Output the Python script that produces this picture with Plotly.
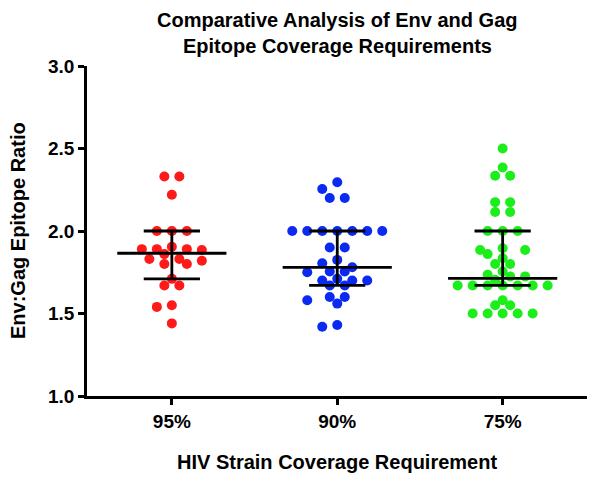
import numpy as np
import plotly.graph_objects as go
from collections import Counter

# ---------------- data ----------------
categories = ["95%", "90%", "75%"]

ratio_95 = [2.33, 2.33, 2.22, 2.00, 2.00, 2.00, 1.905, 1.89, 1.89, 1.89, 1.885,
            1.86, 1.83, 1.83, 1.82, 1.80, 1.80, 1.71, 1.67, 1.67, 1.55, 1.54, 1.44]

ratio_90 = [2.295, 2.255, 2.20, 2.20, 2.00, 2.00, 2.00, 2.00, 2.00, 2.00, 2.00,
            1.90, 1.90, 1.825, 1.805, 1.78, 1.755, 1.755, 1.75, 1.71, 1.70, 1.70,
            1.70, 1.67, 1.67, 1.60, 1.60, 1.58, 1.56, 1.43, 1.42]

ratio_75 = [2.50, 2.385, 2.335, 2.335, 2.175, 2.175, 2.115, 2.115, 2.00, 2.00, 2.00,
            1.895, 1.885, 1.885, 1.86, 1.835, 1.80, 1.80, 1.755, 1.735, 1.725, 1.725,
            1.705, 1.67, 1.67, 1.67, 1.67, 1.67, 1.67, 1.67, 1.58, 1.55, 1.55,
            1.50, 1.50, 1.50, 1.50, 1.50]

median_vals = [1.865, 1.78, 1.713]
q1_vals = [1.71, 1.67, 1.67]
q3_vals = [2.00, 2.00, 2.00]

# ---------------- styling / layout ----------------
colors = ["#FF1A1A", "#0A2AF2", "#1CEE1C"]
FONT = "Liberation Sans, Arial, Helvetica, sans-serif"
PAGE_OFF = 8                      # default body margin of the html page
W, H = 600 - PAGE_OFF, 479 - PAGE_OFF
M_L, M_R, M_T, M_B = 87 - PAGE_OFF, 13, 66 - PAGE_OFF, 83
X_RANGE = [-0.513, 2.51]
Y_RANGE = [1.0, 3.0]
plot_w = W - M_L - M_R
plot_h = H - M_T - M_B
px_x = plot_w / (X_RANGE[1] - X_RANGE[0])
px_y = plot_h / (Y_RANGE[1] - Y_RANGE[0])
MARKER = 10
STEP = 7.5      # half spacing between neighbouring dots (px)
MIN_D = 8.5     # minimum distance between dot centres (px)
MED_HALF = 0.33
Q_HALF = 0.17


def paper_y(page_px):
    return 1 - (page_px - PAGE_OFF - M_T) / plot_h


def paper_x(page_px):
    return (page_px - PAGE_OFF - M_L) / plot_w


def swarm_offsets(values):
    """Simple beeswarm: place dots on a half-step grid, avoiding overlap."""
    vals = np.asarray(values, float)
    counts = Counter(np.round(vals, 4))
    order = sorted(range(len(vals)), key=lambda i: -vals[i])
    placed = []
    offs = np.zeros(len(vals))
    for i in order:
        y = vals[i] * px_y
        n = counts[round(vals[i], 4)]
        cands = []
        for k in range(0, 40):
            for s in ([0] if k == 0 else [-k, k]):
                good = (abs(s) % 2 == 0) == (n % 2 == 1)
                cands.append((abs(s) + (0 if good else 1.5), s))
        cands.sort(key=lambda c: c[0])
        for _, s in cands:
            x = s * STEP
            if all((x - px) ** 2 + (y - py) ** 2 >= MIN_D ** 2 for px, py in placed):
                placed.append((x, y))
                offs[i] = x / px_x
                break
    return offs


fig = go.Figure()
groups = [ratio_95, ratio_90, ratio_75]
for gi, vals in enumerate(groups):
    offs = swarm_offsets(vals)
    fig.add_trace(go.Scatter(
        x=gi + offs, y=vals, mode="markers",
        marker=dict(color=colors[gi], size=MARKER, line=dict(width=0)),
        name=categories[gi], showlegend=False, hoverinfo="y"))

# median + interquartile range lines
lx, ly = [], []
for gi in range(len(categories)):
    lx += [gi - MED_HALF, gi + MED_HALF, None]
    ly += [median_vals[gi], median_vals[gi], None]
    lx += [gi - Q_HALF, gi + Q_HALF, None]
    ly += [q3_vals[gi], q3_vals[gi], None]
    lx += [gi - Q_HALF, gi + Q_HALF, None]
    ly += [q1_vals[gi], q1_vals[gi], None]
    lx += [gi, gi, None]
    ly += [q1_vals[gi], q3_vals[gi], None]
fig.add_trace(go.Scatter(x=lx, y=ly, mode="lines",
                         line=dict(color="black", width=2.8),
                         showlegend=False, hoverinfo="skip"))

fig.update_layout(
    width=W, height=H,
    margin=dict(l=M_L, r=M_R, t=M_T, b=M_B),
    paper_bgcolor="white", plot_bgcolor="white",
    font=dict(family=FONT, color="black", size=19, weight="bold"),
    showlegend=False,
)
fig.update_xaxes(
    range=X_RANGE, tickmode="array", tickvals=[0, 1, 2], ticktext=categories,
    showgrid=False, zeroline=False, showline=True, linecolor="black", linewidth=2.5,
    ticks="outside", ticklen=6, tickwidth=2.5, tickcolor="black",
    tickfont=dict(family=FONT, size=19, color="black", weight="bold"),
)
fig.update_yaxes(
    range=Y_RANGE, tickmode="array", tickvals=[1.0, 1.5, 2.0, 2.5, 3.0],
    ticktext=["1.0", "1.5", "2.0", "2.5", "3.0"],
    showgrid=False, zeroline=False, showline=True, linecolor="black", linewidth=2.5,
    ticks="outside", ticklen=6, tickwidth=2.5, tickcolor="black",
    tickfont=dict(family=FONT, size=19, color="black", weight="bold"),
)

title_font = dict(family=FONT, size=20, color="black", weight="bold")
annots = [
    dict(text="Comparative Analysis of Env and Gag", x=0.5, y=paper_y(20),
         xref="paper", yref="paper", xanchor="center", yanchor="middle",
         showarrow=False, font=title_font),
    dict(text="Epitope Coverage Requirements", x=0.5, y=paper_y(45.5),
         xref="paper", yref="paper", xanchor="center", yanchor="middle",
         showarrow=False, font=title_font),
    dict(text="HIV Strain Coverage Requirement", x=0.5, y=paper_y(462),
         xref="paper", yref="paper", xanchor="center", yanchor="middle",
         showarrow=False, font=title_font),
    dict(text="Env:Gag Epitope Ratio", x=paper_x(18), y=0.5,
         xref="paper", yref="paper", xanchor="center", yanchor="middle",
         textangle=-90, showarrow=False, font=title_font),
]
fig.update_layout(annotations=annots)

fig.write_html("out.html")
